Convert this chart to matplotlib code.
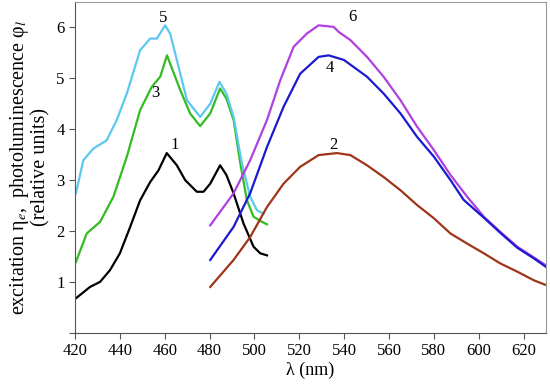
import matplotlib.pyplot as plt

plt.rcParams['font.family'] = ['Liberation Serif', 'DejaVu Serif']
plt.rcParams['mathtext.fontset'] = 'stix'

# curve 1 (black) - excitation
x1 = [420.5, 426.7, 431.2, 435.6, 440.0, 444.6, 449.0, 453.5, 457.2, 460.9, 465.4,
      469.1, 474.3, 477.3, 480.3, 484.7, 487.5, 490.7, 495.1, 499.6, 502.6, 505.6]
y1 = [0.68, 0.90, 1.00, 1.23, 1.56, 2.08, 2.60, 2.96, 3.19, 3.53, 3.29,
      3.00, 2.77, 2.77, 2.93, 3.29, 3.10, 2.74, 2.15, 1.69, 1.56, 1.52]

# curve 3 (green) - excitation
x3 = [420.4, 425.2, 431.2, 437.1, 443.1, 449.0, 454.2, 458.0, 461.0, 466.9, 471.3,
      475.8, 480.3, 484.7, 487.5, 490.7, 493.7, 496.6, 499.6, 503.3, 505.6]
y3 = [1.39, 1.95, 2.18, 2.67, 3.46, 4.37, 4.83, 5.03, 5.45, 4.77, 4.31,
      4.06, 4.31, 4.80, 4.60, 4.18, 3.33, 2.61, 2.28, 2.18, 2.13]

# curve 5 (cyan) - excitation
x5 = [420.4, 423.7, 428.2, 434.1, 438.6, 443.1, 449.0, 453.5, 456.5, 460.2, 462.4,
      465.4, 469.9, 475.8, 480.3, 484.4, 487.5, 490.7, 494.4, 498.1, 501.1, 504.0]
y5 = [2.74, 3.39, 3.62, 3.78, 4.18, 4.70, 5.55, 5.78, 5.78, 6.04, 5.88,
      5.36, 4.57, 4.24, 4.50, 4.93, 4.70, 4.24, 3.33, 2.67, 2.41, 2.34]

# curve 6 (violet) - photoluminescence
x6 = [480.3, 490.7, 498.1, 505.6, 511.5, 517.5, 523.4, 528.6, 535.3, 537.6,
      542.8, 550.2, 557.6, 565.1, 572.5, 580.0, 587.4, 594.9, 602.3, 609.7, 617.2, 624.6, 629.8]
y6 = [2.11, 2.74, 3.39, 4.18, 4.96, 5.62, 5.88, 6.04, 6.01, 5.91,
      5.75, 5.42, 5.03, 4.57, 4.05, 3.59, 3.10, 2.67, 2.28, 1.98, 1.69, 1.48, 1.33]

# curve 4 (blue) - photoluminescence
x4 = [480.3, 490.7, 498.1, 505.6, 513.0, 520.4, 528.6, 533.1, 539.9, 550.2,
      557.6, 565.1, 572.5, 580.0, 587.4, 593.3, 602.3, 609.7, 617.2, 624.6, 629.8]
y4 = [1.43, 2.08, 2.74, 3.65, 4.44, 5.09, 5.42, 5.45, 5.36, 5.03,
      4.70, 4.31, 3.85, 3.46, 3.00, 2.61, 2.26, 1.96, 1.67, 1.46, 1.30]

# curve 2 (brown) - photoluminescence
x2 = [480.3, 490.7, 498.1, 505.6, 513.0, 520.4, 528.6, 536.8, 542.8, 550.2,
      557.6, 565.1, 572.5, 580.0, 587.4, 594.9, 602.3, 609.7, 617.2, 624.6, 629.8]
y2 = [0.90, 1.43, 1.88, 2.47, 2.93, 3.26, 3.49, 3.53, 3.49, 3.29,
      3.06, 2.80, 2.51, 2.25, 1.95, 1.75, 1.56, 1.36, 1.20, 1.03, 0.94]

curves = [(x1, y1, 'black'), (x3, y3, '#33bb22'), (x5, y5, '#5cc8ee'),
          (x6, y6, '#b040e0'), (x4, y4, '#1a1ad0'), (x2, y2, '#a03418')]
labels = [('1', 464.6, 3.69), ('3', 455.7, 4.72), ('5', 459.3, 6.18),
          ('6', 543.7, 6.2), ('4', 533.8, 5.2), ('2', 535.2, 3.68)]

fig = plt.figure(figsize=(5.5, 3.86), dpi=100)
ax = fig.add_axes([0.1364, 0.138, 0.8563, 0.857])

for x, y, c in curves:
    ax.plot(x, y, color=c, lw=1.6)
for t, lx, ly in labels:
    ax.text(lx, ly, t, fontsize=12, ha='center', va='center')

ax.set_xlim(420, 630)
ax.set_ylim(0, 6.5)
ax.set_xticks(range(420, 621, 20))
ax.set_yticks(range(0, 7))
ax.set_yticklabels([''] + [str(i) for i in range(1, 7)])
ax.tick_params(labelsize=12, direction='out', length=4, color='#555555')
for s in ['left', 'bottom']:
    ax.spines[s].set_color('#555555')
for s in ['top', 'right']:
    ax.spines[s].set_color('#999999')
ax.set_xlabel('λ (nm)', fontsize=13, labelpad=2)
ax.set_ylabel('excitation η$_e$,  photoluminescence φ$_l$\n(relative units)', fontsize=14.5,
              linespacing=1.0, labelpad=4)

fig.savefig('out.png', dpi=100)
